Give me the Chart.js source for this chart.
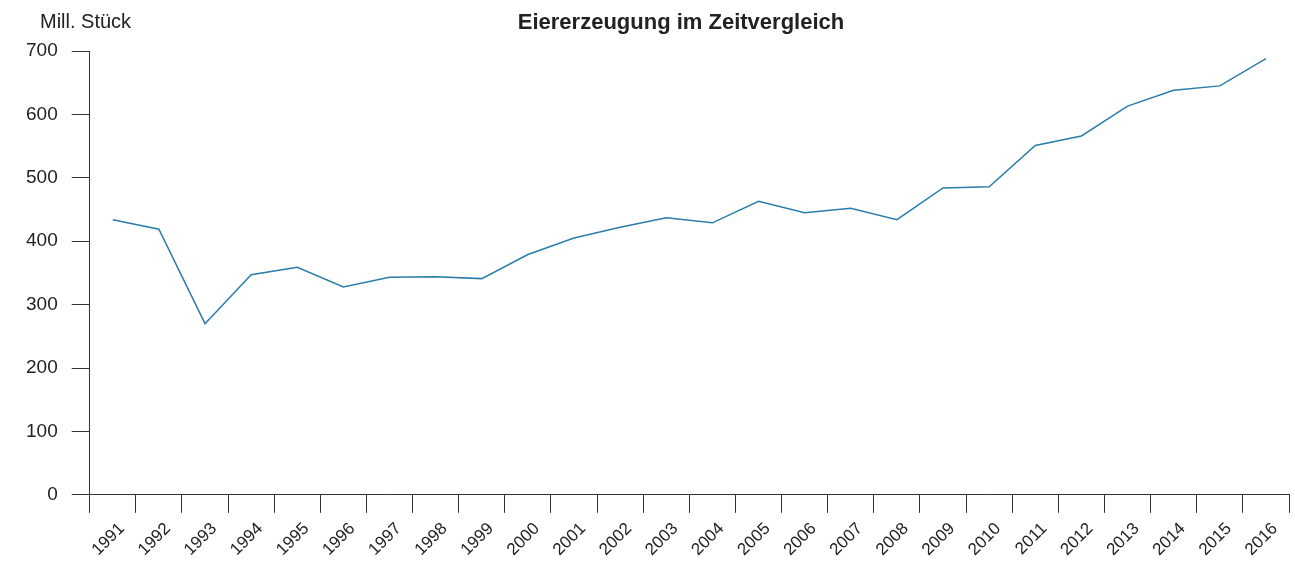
<!DOCTYPE html>
<html>
<head>
<meta charset="utf-8">
<script src="https://cdn.jsdelivr.net/npm/chart.js@4"></script>
<style>
  html, body { margin: 0; padding: 0; background: #fff; }
  #wrap { width: 1295px; height: 563px; }
</style>
</head>
<body>
<div id="wrap"><canvas id="eierGrafico"></canvas></div>
<script>
// Jahre und Eiererzeugung (Mill. Stück)
const jahre = [
    '1991', '1992', '1993', '1994', '1995', '1996', '1997', '1998', '1999', '2000',
    '2001', '2002', '2003', '2004', '2005', '2006', '2007', '2008', '2009', '2010',
    '2011', '2012', '2013', '2014', '2015', '2016'
];
const eier = [
    434, 419, 270, 347, 359, 328, 343, 344, 341, 379,
    405, 422, 437, 429, 463, 445, 452, 434, 484, 486,
    551, 566, 613, 638, 645, 688
];
const yTicks = [0, 100, 200, 300, 400, 500, 600, 700];

const titel = 'Eiererzeugung im Zeitvergleich';
const einheit = 'Mill. Stück';

// texte oben (titel + einheit)
const textPlugin = {
    id: 'texte',
    afterDraw(chart) {
        const ctx = chart.ctx;
        ctx.save();
        ctx.fillStyle = '#222';
        ctx.textBaseline = 'middle';
        ctx.font = 'bold 22px "Liberation Sans", Arial, sans-serif';
        ctx.textAlign = 'center';
        ctx.fillText(titel, 681, 23);
        ctx.font = '20px "Liberation Sans", Arial, sans-serif';
        ctx.textAlign = 'left';
        ctx.fillText(einheit, 40, 22);
        ctx.restore();
    }
};

const eier1 = document.getElementById('eierGrafico');

const eier_config = {
    type: 'line',
    data: {
        labels: jahre,
        datasets: [{
            label: einheit,
            data: eier,
            borderColor: '#2a7dab',
            borderWidth: 1.5,
            pointRadius: 0,
            tension: 0,
            fill: false
        }]
    },
    options: {
        responsive: true,
        maintainAspectRatio: false,
        animation: false,
        layout: {
            padding: { left: 12, right: 6, top: 51, bottom: -3 }
        },
        scales: {
            x: {
                offset: true,
                grid: {
                    offset: true,
                    drawOnChartArea: false,
                    drawTicks: true,
                    tickLength: 18,
                    color: '#333'
                },
                border: { color: '#333', width: 1 },
                ticks: {
                    color: '#222',
                    autoSkip: false,
                    maxRotation: 45,
                    minRotation: 45,
                    padding: 6,
                    labelOffset: 9,
                    font: { size: 17, family: '"Liberation Sans", Arial, sans-serif' }
                }
            },
            y: {
                min: 0,
                max: 700,
                afterBuildTicks(scale) {
                    scale.ticks = yTicks.map(v => ({ value: v }));
                },
                grid: {
                    drawOnChartArea: false,
                    drawTicks: true,
                    tickLength: 18,
                    color: '#333'
                },
                border: { color: '#333', width: 1 },
                ticks: {
                    color: '#222',
                    padding: 14,
                    font: { size: 19, family: '"Liberation Sans", Arial, sans-serif' }
                }
            }
        },
        plugins: {
            legend: { display: false },
            title: { display: false },
            tooltip: { enabled: false }
        }
    },
    plugins: [textPlugin]
};

const grafico_eier = new Chart(eier1, eier_config);
</script>
</body>
</html>
